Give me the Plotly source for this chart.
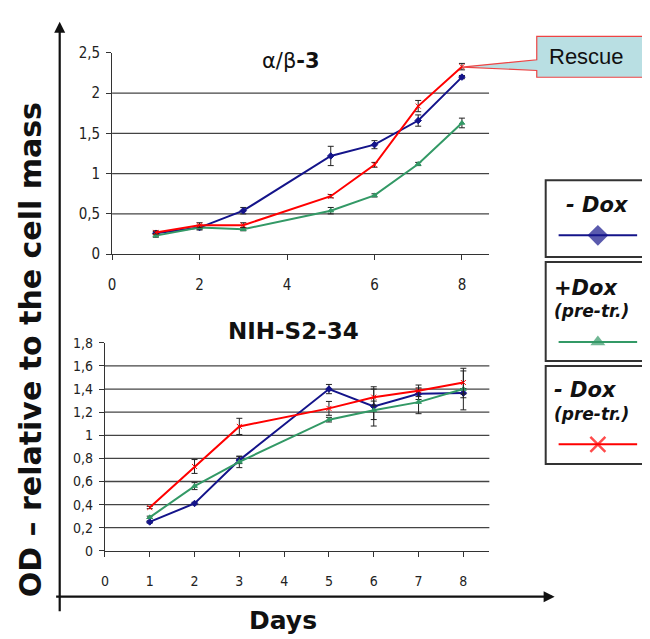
import plotly.graph_objects as go

W, H = 650, 639
OFF = 8  # page body margin: figure is drawn 8px right/down in the photographed window

# ---------------- data ----------------
days = [1, 2, 3, 5, 6, 7, 8]

# alpha/beta-3
ab_minus_dox = [0.26, 0.33, 0.54, 1.22, 1.36, 1.66, 2.20]
ab_minus_dox_err = [0.02, 0.03, 0.04, 0.12, 0.05, 0.07, 0.02]
ab_plus_dox_pre = [0.23, 0.33, 0.31, 0.54, 0.73, 1.12, 1.63]
ab_plus_dox_pre_err = [0.02, 0.02, 0.02, 0.04, 0.02, 0.02, 0.06]
ab_minus_dox_pre = [0.27, 0.36, 0.36, 0.72, 1.11, 1.84, 2.33]
ab_minus_dox_pre_err = [0.02, 0.03, 0.03, 0.02, 0.03, 0.07, 0.04]

# NIH-S2-34
nih_minus_dox = [0.25, 0.41, 0.785, 1.40, 1.25, 1.36, 1.365]
nih_minus_dox_err = [0.01, 0.01, 0.03, 0.04, 0.17, 0.05, 0.04]
nih_plus_dox_pre = [0.29, 0.56, 0.77, 1.135, 1.216, 1.287, 1.40]
nih_plus_dox_pre_err = [0.01, 0.03, 0.05, 0.02, 0.08, 0.10, 0.18]
nih_minus_dox_pre = [0.375, 0.73, 1.077, 1.233, 1.33, 1.385, 1.457]
nih_minus_dox_pre_err = [0.01, 0.06, 0.07, 0.06, 0.07, 0.05, 0.10]

top_grid = [0.5, 1.0, 1.5, 2.0]
bot_grid = [0.2, 0.4, 0.6, 0.8, 1.0, 1.2, 1.4, 1.6]

BLUE = "#14148a"
GREEN = "#339966"
RED = "#ff0000"
TICKFONT = "Liberation Sans Narrow, Arial Narrow, DejaVu Sans Condensed, sans-serif"
BOLDFONT = "DejaVu Sans, Verdana, sans-serif"


def px(x):
    return (x - OFF) / W


def py(y):
    return 1 - (y - OFF) / H


fig = go.Figure()


def add_series(x, y, err, color, symbol, msize, xa, ya, name):
    fig.add_trace(go.Scatter(
        x=x, y=y, mode="lines+markers", name=name,
        line=dict(color=color, width=2),
        marker=dict(symbol=symbol, size=msize, color=color,
                    line=dict(color=color, width=1)),
        error_y=dict(type="data", array=err, visible=True,
                     color="#222222", thickness=1, width=3),
        xaxis=xa, yaxis=ya, showlegend=False,
    ))


# top chart
add_series(days, ab_minus_dox, ab_minus_dox_err, BLUE, "diamond", 5, "x", "y", "- Dox")
add_series(days, ab_plus_dox_pre, ab_plus_dox_pre_err, GREEN, "triangle-up", 5, "x", "y", "+Dox (pre-tr.)")
add_series(days, ab_minus_dox_pre, ab_minus_dox_pre_err, RED, "x-thin", 5, "x", "y", "- Dox (pre-tr.)")
# bottom chart
add_series(days, nih_minus_dox, nih_minus_dox_err, BLUE, "diamond", 5, "x2", "y2", "- Dox")
add_series(days, nih_plus_dox_pre, nih_plus_dox_pre_err, GREEN, "triangle-up", 5, "x2", "y2", "+Dox (pre-tr.)")
add_series(days, nih_minus_dox_pre, nih_minus_dox_pre_err, RED, "x-thin", 5, "x2", "y2", "- Dox (pre-tr.)")

# legend symbols on a pixel-space overlay axis (window pixel coordinates)
leg_x = [558, 597.5, 637]
for ly, color, symbol, size in [(232.7, BLUE, "diamond", 16),
                                (342.3, GREEN, "triangle-up", 13),
                                (447.7, RED, "x-thin", 15)]:
    fig.add_trace(go.Scatter(
        x=leg_x, y=[ly] * 3, mode="lines+markers",
        line=dict(color=color, width=2),
        marker=dict(symbol=symbol, size=[0, size, 0], color=color,
                    line=dict(color=color, width=2.5 if symbol == "x-thin" else 0)),
        xaxis="x3", yaxis="y3", showlegend=False, hoverinfo="skip",
    ))

axis_common = dict(showline=True, linecolor="#333333", linewidth=1,
                   ticks="outside", ticklen=5, tickcolor="#333333",
                   showgrid=False, zeroline=False)

fig.update_layout(
    width=W, height=H, margin=dict(l=0, r=0, t=0, b=0),
    paper_bgcolor="white", plot_bgcolor="rgba(0,0,0,0)",
    separators=", ",
    xaxis=dict(domain=[px(108.7), px(488)], range=[0, 8.62], tickvals=[0, 2, 4, 6, 8],
               anchor="y", tickfont=dict(family=TICKFONT, size=15, color="#222"),
               ticklabelstandoff=12, **axis_common),
    yaxis=dict(domain=[py(252), py(45)], range=[0, 2.5], dtick=0.5,
               anchor="x", tickfont=dict(family=TICKFONT, size=15, color="#222"),
               ticklabelstandoff=3, **axis_common),
    xaxis2=dict(domain=[px(101.5), px(488.3)], range=[0, 8.58], dtick=1,
                anchor="y2", tickfont=dict(family=TICKFONT, size=14, color="#222"),
                ticklabelstandoff=12, **axis_common),
    yaxis2=dict(domain=[py(557.3), py(343.3)], range=[0, 1.8], dtick=0.2,
                anchor="x2", tickfont=dict(family=TICKFONT, size=14, color="#222"),
                ticklabelstandoff=3, **axis_common),
    xaxis3=dict(domain=[0, 1], range=[OFF, W + OFF], visible=False, fixedrange=True, anchor="y3"),
    yaxis3=dict(domain=[0, 1], range=[H + OFF, OFF], visible=False, fixedrange=True, anchor="x3"),
)

shapes = []
# gridlines
for g in top_grid:
    shapes.append(dict(type="line", xref="x domain", yref="y", x0=0, x1=1, y0=g, y1=g,
                       line=dict(color="#444444", width=1.3), layer="below"))
for g in bot_grid:
    shapes.append(dict(type="line", xref="x2 domain", yref="y2", x0=0, x1=1, y0=g, y1=g,
                       line=dict(color="#444444", width=1.3), layer="below"))

# legend boxes
for (y0, y1) in [(176, 255), (260, 362), (367, 468)]:
    shapes.append(dict(type="rect", xref="paper", yref="paper",
                       x0=px(545), x1=px(648), y0=py(y1), y1=py(y0),
                       line=dict(color="#333333", width=2), fillcolor="rgba(0,0,0,0)"))

# Rescue callout
pts = [(536, 28), (645, 28), (645, 70), (536, 70), (536, 63), (460.7, 59.5), (536, 52)]
path = "M " + " L ".join(f"{px(a):.5f},{py(b):.5f}" for a, b in pts) + " Z"
shapes.append(dict(type="path", xref="paper", yref="paper", path=path,
                   fillcolor="#b9dfe3", line=dict(color="#ee4444", width=1.2), layer="above"))

fig.update_layout(shapes=shapes)

ann = []
# big axes arrows
ann.append(dict(xref="paper", yref="paper", x=px(56), y=py(13), ax=0, ay=591,
                text="", showarrow=True, arrowhead=2, arrowsize=1, arrowwidth=2.2,
                arrowcolor="#111"))
ann.append(dict(xref="paper", yref="paper", x=px(554), y=py(604.5), ax=-500, ay=0,
                text="", showarrow=True, arrowhead=2, arrowsize=1, arrowwidth=2.2,
                arrowcolor="#111"))
# axis titles
ann.append(dict(xref="paper", yref="paper", x=px(26), y=py(350), text="<b>OD – relative to the cell mass</b>",
                textangle=-90, showarrow=False, font=dict(family=BOLDFONT, size=30, color="#111"),
                xanchor="center", yanchor="middle"))
ann.append(dict(xref="paper", yref="paper", x=px(281), y=py(629), text="<b>Days</b>",
                showarrow=False, font=dict(family=BOLDFONT, size=25, color="#111"),
                xanchor="center", yanchor="middle"))
# chart titles
ann.append(dict(xref="paper", yref="paper", x=px(289), y=py(53), text="α/β<b>-3</b>",
                showarrow=False, font=dict(family=BOLDFONT, size=21, color="#111"),
                xanchor="center", yanchor="middle"))
ann.append(dict(xref="paper", yref="paper", x=px(291), y=py(331), text="<b>NIH-S2-34</b>",
                showarrow=False, font=dict(family=BOLDFONT, size=23, color="#111"),
                xanchor="center", yanchor="middle"))
# callout text
ann.append(dict(xref="paper", yref="paper", x=px(586), y=py(49), text="Rescue",
                showarrow=False, font=dict(family="Liberation Sans, Arial, sans-serif", size=22, color="#111"),
                xanchor="center", yanchor="middle"))
# legend texts
ann.append(dict(xref="paper", yref="paper", x=px(597), y=py(201), text="<b><i>- Dox</i></b>",
                showarrow=False, font=dict(family=BOLDFONT, size=21, color="#111"),
                xanchor="center", yanchor="middle"))
ann.append(dict(xref="paper", yref="paper", x=px(551), y=py(287), text="<b><i>+Dox</i></b>",
                showarrow=False, font=dict(family=BOLDFONT, size=21, color="#111"),
                xanchor="left", yanchor="middle"))
ann.append(dict(xref="paper", yref="paper", x=px(551), y=py(311), text="<b><i>(pre-tr.)</i></b>",
                showarrow=False, font=dict(family=BOLDFONT, size=17, color="#111"),
                xanchor="left", yanchor="middle"))
ann.append(dict(xref="paper", yref="paper", x=px(551), y=py(392), text="<b><i>- Dox</i></b>",
                showarrow=False, font=dict(family=BOLDFONT, size=21, color="#111"),
                xanchor="left", yanchor="middle"))
ann.append(dict(xref="paper", yref="paper", x=px(551), y=py(417), text="<b><i>(pre-tr.)</i></b>",
                showarrow=False, font=dict(family=BOLDFONT, size=17, color="#111"),
                xanchor="left", yanchor="middle"))
fig.update_layout(annotations=ann)

fig.write_html("out.html")
